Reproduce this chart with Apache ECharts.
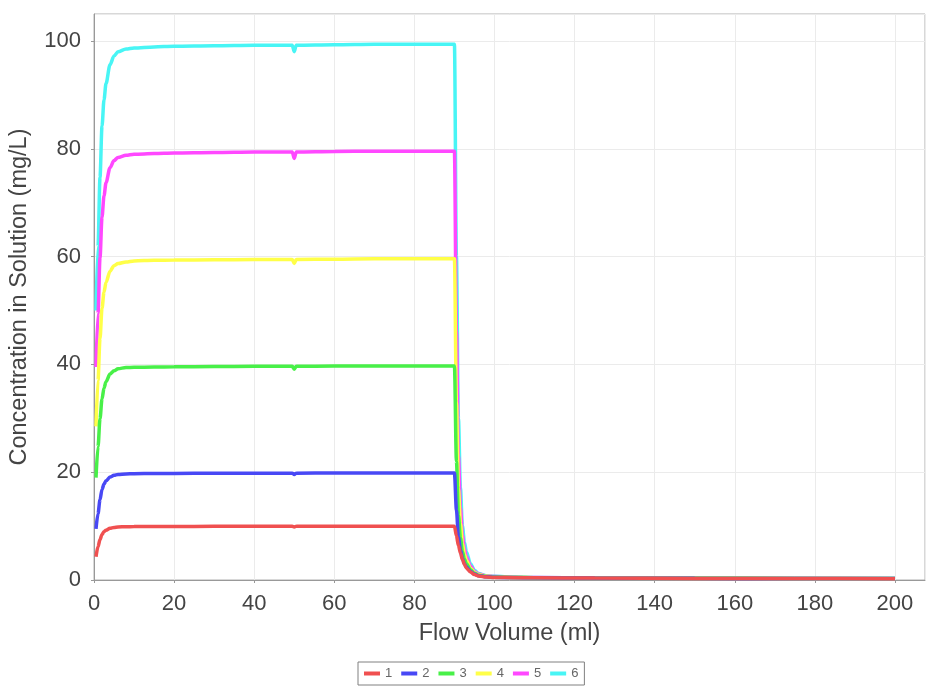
<!DOCTYPE html>
<html>
<head>
<meta charset="utf-8">
<script src="https://cdn.jsdelivr.net/npm/echarts@6/dist/echarts.min.js"></script>
<style>
  html, body { margin: 0; padding: 0; background: #fff; }
  #main { width: 928px; height: 690px; }
</style>
</head>
<body>
<div id="main"></div>
<script>
// flow volume (ml), shared by every curve
var flowVolume = [0.5, 1, 1.5, 2, 2.5, 3, 4, 5, 6, 8, 10, 15, 20, 30, 40, 49.5, 50, 50.5, 60, 70, 80, 90,
  90.5, 91, 91.5, 92, 92.5, 93, 94, 95, 96, 98, 100, 105, 110, 125, 150, 175, 200];

// concentration in solution (mg/L)
var conc1 = [4.3, 6.2, 7.5, 8.45, 8.95, 9.25, 9.6, 9.76, 9.84, 9.89, 9.91, 9.93, 9.94, 9.95, 9.96, 9.96, 9.85, 9.96, 9.97, 9.98, 9.98, 9.98,
  8.2, 6.4, 5.0, 3.8, 2.9, 2.2, 1.5, 1.0, 0.75, 0.55, 0.48, 0.44, 0.4, 0.35, 0.3, 0.27, 0.25];
var conc2 = [9.5, 12.3, 14.9, 16.8, 17.8, 18.4, 19.1, 19.42, 19.58, 19.68, 19.72, 19.76, 19.78, 19.8, 19.82, 19.82, 19.56, 19.82, 19.84, 19.86, 19.86, 19.86,
  13, 8, 5.6, 4.0, 3.0, 2.4, 1.6, 1.1, 0.8, 0.6, 0.5, 0.45, 0.41, 0.36, 0.31, 0.28, 0.26];
var conc3 = [19.0, 24.7, 29.9, 33.6, 35.6, 36.8, 38.2, 38.8, 39.2, 39.4, 39.45, 39.5, 39.56, 39.6, 39.64, 39.64, 39.1, 39.64, 39.68, 39.72, 39.72, 39.72,
  22, 12, 7.8, 5.3, 3.9, 3.0, 1.9, 1.25, 0.9, 0.65, 0.55, 0.48, 0.43, 0.37, 0.32, 0.29, 0.27];
var conc4 = [28.5, 37.0, 44.8, 50.4, 53.4, 55.2, 57.3, 58.3, 58.7, 59.0, 59.2, 59.3, 59.35, 59.4, 59.46, 59.46, 58.7, 59.46, 59.5, 59.58, 59.58, 59.58,
  33, 17, 10.5, 6.8, 4.8, 3.6, 2.2, 1.4, 1.0, 0.7, 0.6, 0.5, 0.44, 0.38, 0.33, 0.3, 0.27];
var conc5 = [39.5, 49.4, 59.8, 67.3, 71.3, 73.7, 76.5, 77.8, 78.4, 78.8, 79.0, 79.1, 79.2, 79.3, 79.4, 79.4, 78.2, 79.4, 79.5, 79.55, 79.55, 79.55,
  46, 23, 13.5, 8.3, 5.8, 4.3, 2.6, 1.6, 1.1, 0.75, 0.65, 0.52, 0.45, 0.39, 0.34, 0.3, 0.28];
var conc6 = [50, 61.8, 74.7, 84.2, 89.1, 92.1, 95.6, 97.2, 98.0, 98.5, 98.7, 98.9, 99.0, 99.1, 99.2, 99.2, 98.0, 99.2, 99.3, 99.4, 99.4, 99.4,
  60, 30, 17, 10, 7, 5.2, 3.0, 1.8, 1.2, 0.8, 0.7, 0.55, 0.47, 0.4, 0.35, 0.31, 0.28];

var seriesNames = ["1", "2", "3", "4", "5", "6"];
var seriesValues = [conc1, conc2, conc3, conc4, conc5, conc6];
var colors = ["#F05050", "#4848F5", "#48F048", "#FFFF48", "#FF48FF", "#48F5F5"];

var font = "'Liberation Sans', Arial, sans-serif";

var series = [];
// drawn from 6 down to 1 so the red curve ends up on top
for (var i = seriesValues.length - 1; i >= 0; i--) {
  series.push({
    name: seriesNames[i],
    type: "line",
    data: flowVolume.map(function(x, k) { return [x, seriesValues[i][k]]; }),
    showSymbol: false,
    smooth: 0.3,
    smoothMonotone: "x",
    lineStyle: { width: 3.5, color: colors[i] },
    itemStyle: { color: colors[i] }
  });
}

var myChart = echarts.init(document.getElementById("main"));
myChart.setOption({
  backgroundColor: "#fff",
  animation: false,
  grid: {
    left: 94, right: 3, top: 14, bottom: 110,
    show: true, borderColor: "#b0b0b0", borderWidth: 1, backgroundColor: "#fff"
  },
  legend: {
    data: seriesNames,
    left: 358, top: 662,
    padding: [5, 6],
    itemGap: 9,
    itemWidth: 16, itemHeight: 4,
    icon: "rect",
    borderColor: "#808080", borderWidth: 1,
    textStyle: { fontFamily: font, fontSize: 13, color: "#666" }
  },
  xAxis: {
    type: "value",
    min: 0, max: 207.5, interval: 20,
    offset: 5,
    name: "Flow Volume (ml)",
    nameLocation: "middle",
    nameGap: 37,
    nameTextStyle: { fontFamily: font, fontSize: 23.5, color: "#444" },
    axisLine: { show: true, lineStyle: { color: "#999" } },
    axisTick: { show: true, length: 3, lineStyle: { color: "#999" } },
    axisLabel: { fontFamily: font, fontSize: 22, color: "#444", margin: 8, showMaxLabel: false },
    splitLine: { show: true, lineStyle: { color: "#ebebeb" } }
  },
  yAxis: {
    type: "value",
    min: 0, max: 105, interval: 20,
    offset: 5,
    name: "Concentration in Solution (mg/L)",
    nameLocation: "middle",
    nameGap: 57,
    nameTextStyle: { fontFamily: font, fontSize: 23.5, color: "#444" },
    axisLine: { show: true, lineStyle: { color: "#999" } },
    axisTick: { show: true, length: 3, lineStyle: { color: "#999" } },
    axisLabel: { fontFamily: font, fontSize: 22, color: "#444", margin: 8, showMaxLabel: false },
    splitLine: { show: true, lineStyle: { color: "#ebebeb" } }
  },
  series: series
});
</script>
</body>
</html>
